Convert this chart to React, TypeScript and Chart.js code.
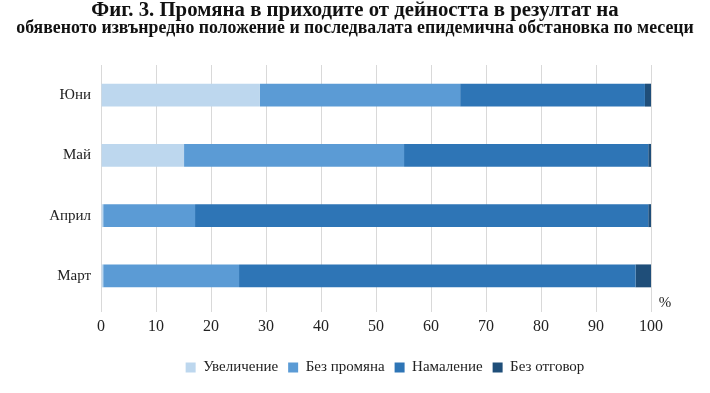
import React, { useEffect, useRef } from "react";
import { Chart, registerables } from "chart.js";

Chart.register(...registerables);

const months = ["Юни", "Май", "Април", "Март"];
const seriesNames = ["Увеличение", "Без промяна", "Намаление", "Без отговор"];
const increase = [28.9, 15.1, 0.4, 0.4];
const noChange = [36.4, 40.0, 16.7, 24.7];
const decrease = [33.6, 44.4, 82.4, 72.1];
const noAnswer = [1.1, 0.5, 0.5, 2.8];
const seriesColors = ["#bdd7ee", "#5b9bd5", "#2e75b6", "#1f4e79"];
const titleLine1 = "Фиг. 3. Промяна в приходите от дейността в резултат на";
const titleLine2 = "обявеното извънредно положение и последвалата епидемична обстановка по месеци";
const unitLabel = "%";

const serif = "'Liberation Serif', 'DejaVu Serif', serif";

const percentPlugin = {
  id: "percentLabel",
  afterLayout(chart: any) {
    const lg = chart.legend;
    if (lg) {
      lg.left += 9;
      lg.right += 9;
    }
  },
  afterDraw(chart: any) {
    const { ctx, chartArea } = chart;
    ctx.save();
    ctx.font = `15px ${serif}`;
    ctx.fillStyle = "#222";
    ctx.textAlign = "center";
    ctx.textBaseline = "middle";
    ctx.fillText(unitLabel, chartArea.right + 14, chartArea.bottom - 3);
    ctx.restore();
  },
};

export default function App() {
  const ref = useRef<HTMLCanvasElement | null>(null);
  useEffect(() => {
    if (!ref.current) return;
    const values = [increase, noChange, decrease, noAnswer];
    const chart = new Chart(ref.current, {
      type: "bar",
      data: {
        labels: months,
        datasets: seriesNames.map((name, i) => ({
          label: name,
          data: values[i],
          backgroundColor: seriesColors[i],
          borderWidth: 0,
          categoryPercentage: 1,
          barPercentage: 0.38,
        })),
      },
      options: {
        indexAxis: "y",
        animation: false,
        responsive: false,
        maintainAspectRatio: false,
        layout: { padding: { left: 0, right: 0, top: 0, bottom: 8 } },
        plugins: {
          title: {
            display: true,
            text: titleLine1,
            color: "#111",
            font: { family: serif, size: 20.8, weight: "bold", lineHeight: 0.9 },
            padding: { top: 1, bottom: 0 },
          },
          subtitle: {
            display: true,
            text: titleLine2,
            color: "#111",
            font: { family: serif, size: 17.8, weight: "bold", lineHeight: 1.0 },
            padding: { top: 0, bottom: 27.5 },
          },
          legend: {
            position: "bottom",
            fullSize: false,
            labels: {
              boxWidth: 10,
              boxHeight: 10,
              color: "#222",
              font: { family: serif, size: 15 },
              padding: 10,
            },
          },
          tooltip: { enabled: false },
        },
        scales: {
          x: {
            stacked: true,
            min: 0,
            max: 100,
            ticks: {
              stepSize: 10,
              color: "#222",
              font: { family: serif, size: 16 },
              padding: 5,
            },
            grid: { color: "#d9d9d9", tickLength: 6, drawTicks: true },
            border: { display: false },
            afterFit(scale: any) {
              scale.height = 44;
            },
          },
          y: {
            stacked: true,
            ticks: {
              color: "#222",
              font: { family: serif, size: 15 },
              padding: 2,
            },
            grid: { display: false },
            border: { display: false },
            afterFit(scale: any) {
              scale.width = 101;
            },
          },
          yRight: {
            type: "linear",
            position: "right",
            display: true,
            ticks: { display: false },
            grid: { display: false },
            border: { display: false },
            afterFit(scale: any) {
              scale.width = 59;
            },
          },
        },
      },
      plugins: [percentPlugin],
    });
    return () => chart.destroy();
  }, []);
  return (
    <div style={{ position: "fixed", left: 0, top: 0, width: 710, height: 393, background: "#fff" }}>
      <canvas ref={ref} width={710} height={393} style={{ width: 710, height: 393 }} />
    </div>
  );
}
